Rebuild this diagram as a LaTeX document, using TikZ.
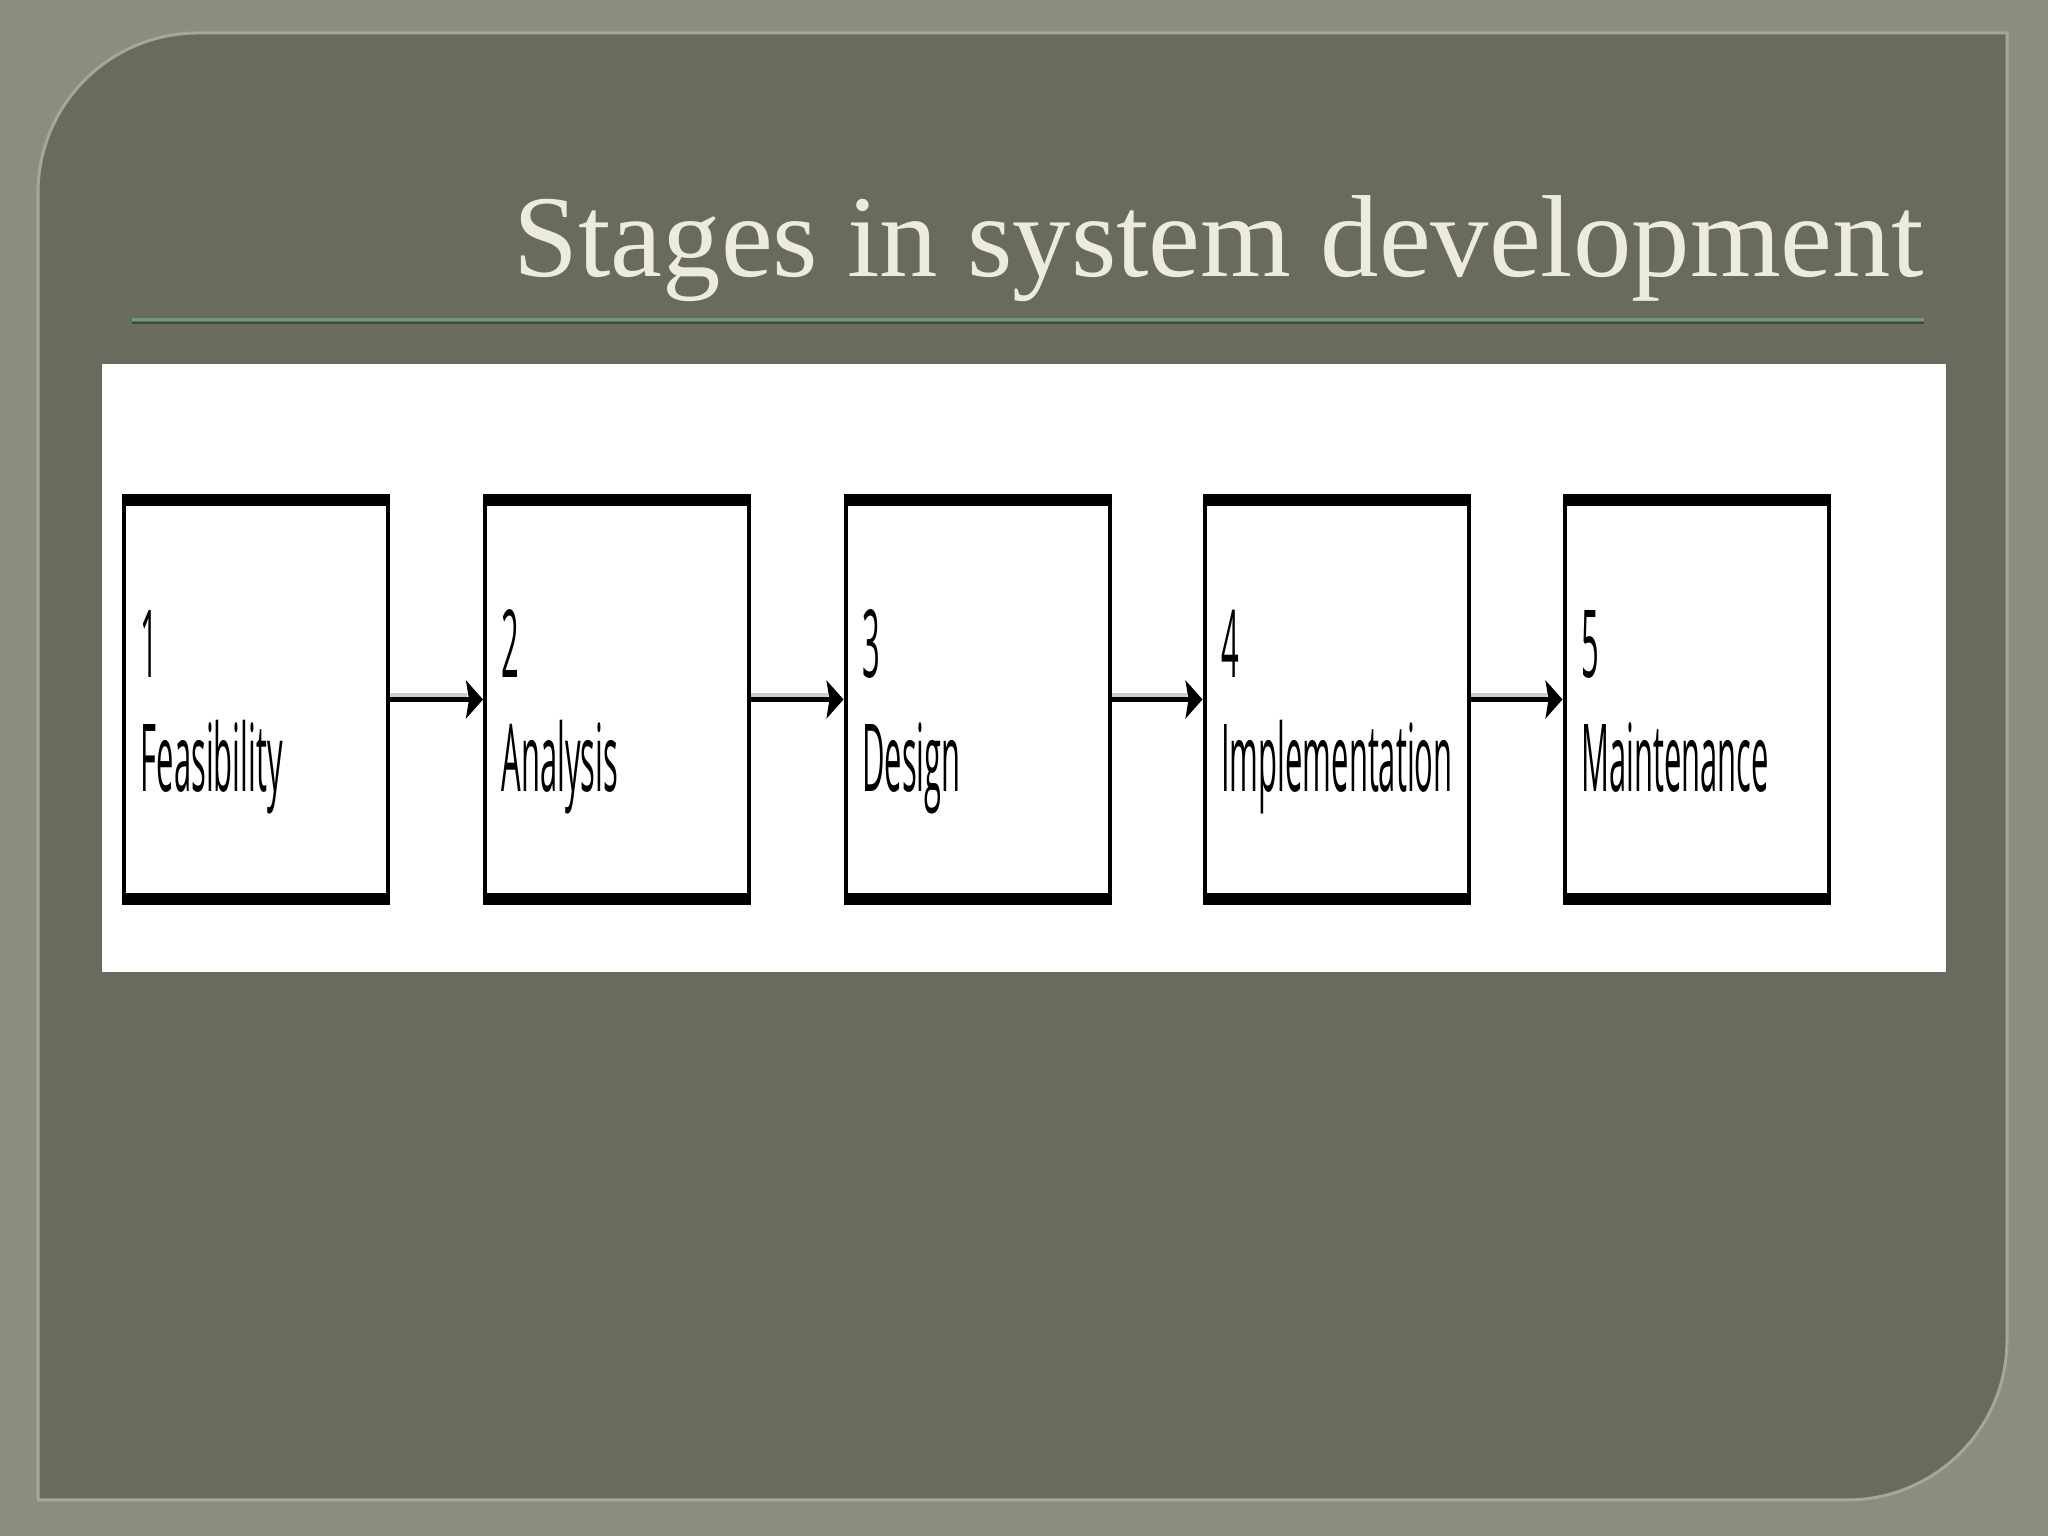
\documentclass[tikz,border=0pt]{standalone}
\usepackage{fontspec}
\setmainfont{Liberation Serif}
\newfontfamily\stagefont[FakeStretch=0.33]{Open Sans}
\usetikzlibrary{arrows.meta,calc}
\definecolor{framebg}{HTML}{8B8E7E}
\definecolor{panelbg}{HTML}{696B5F}
\definecolor{paneledge}{HTML}{A4A895}
\definecolor{titlecol}{HTML}{ECEBDD}
\definecolor{rulegreen}{HTML}{6E9A7C}
\definecolor{ruledark}{HTML}{45463D}
\tikzset{
  stagebox/.style={draw=black, fill=white, line width=0.04cm, minimum width=2.64cm, minimum height=4.07cm, inner sep=0pt},
  stagetext/.style={anchor=base west, inner sep=0pt, font=\stagefont\fontsize{26.7}{30}\selectfont, text=black},
  flow/.style={line width=0.05cm, -{Stealth[length=0.17cm,width=0.38cm,inset=0.03cm]}},
  flowshade/.style={line width=0.04cm, draw=black!20}
}
\begin{document}
\begin{tikzpicture}
\useasboundingbox (0,0) rectangle (20.48,15.36);
\fill[framebg] (0,0) rectangle (20.48,15.36);
% inner panel
\fill[panelbg] (0.38,0.36) -- (0.38,13.43) arc[start angle=180,end angle=90,radius=1.6]
  -- (20.07,15.03) -- (20.07,1.96) arc[start angle=0,end angle=-90,radius=1.6] -- cycle;
\draw[paneledge, line width=0.03cm] (0.38,0.36) -- (0.38,13.43) arc[start angle=180,end angle=90,radius=1.6]
  -- (20.07,15.03) -- (20.07,1.96) arc[start angle=0,end angle=-90,radius=1.6] -- cycle;
% title
\node[anchor=base east, inner sep=0pt, text=titlecol, font=\fontsize{33.2}{40}\selectfont] (title) at (19.24,12.59) {Stages in system development};
\draw[ruledark, line width=0.025cm] (1.32,12.13) -- (19.24,12.13);
\draw[rulegreen, line width=0.03cm] (1.32,12.16) -- (19.24,12.16);
% white panel
\fill[white] (1.02,5.64) rectangle (19.46,11.72);
% stages
\foreach \i/\x/\word in {1/2.56/Feasibility, 2/6.17/Analysis, 3/9.775/Design, 4/13.365/Implementation, 5/16.965/Maintenance}{
  \node[stagebox] (b\i) at (\x,8.365) {};
  \fill[black] (b\i.north west) rectangle ($(b\i.north east)+(0,-0.12)$);
  \fill[black] (b\i.south west) rectangle ($(b\i.south east)+(0,0.12)$);
  \node[stagetext] (n\i) at (\x-1.16,8.58) {\i};
  \node[stagetext] (w\i) at (\x-1.16,7.44) {\word};
}
\foreach \i/\j in {1/2,2/3,3/4,4/5}{
  \draw[flowshade] ([yshift=0.045cm]b\i.east) -- ([yshift=0.045cm,xshift=-0.16cm]b\j.west);
  \draw[flow] (b\i.east) -- (b\j.west);
}
\end{tikzpicture}
\end{document}
